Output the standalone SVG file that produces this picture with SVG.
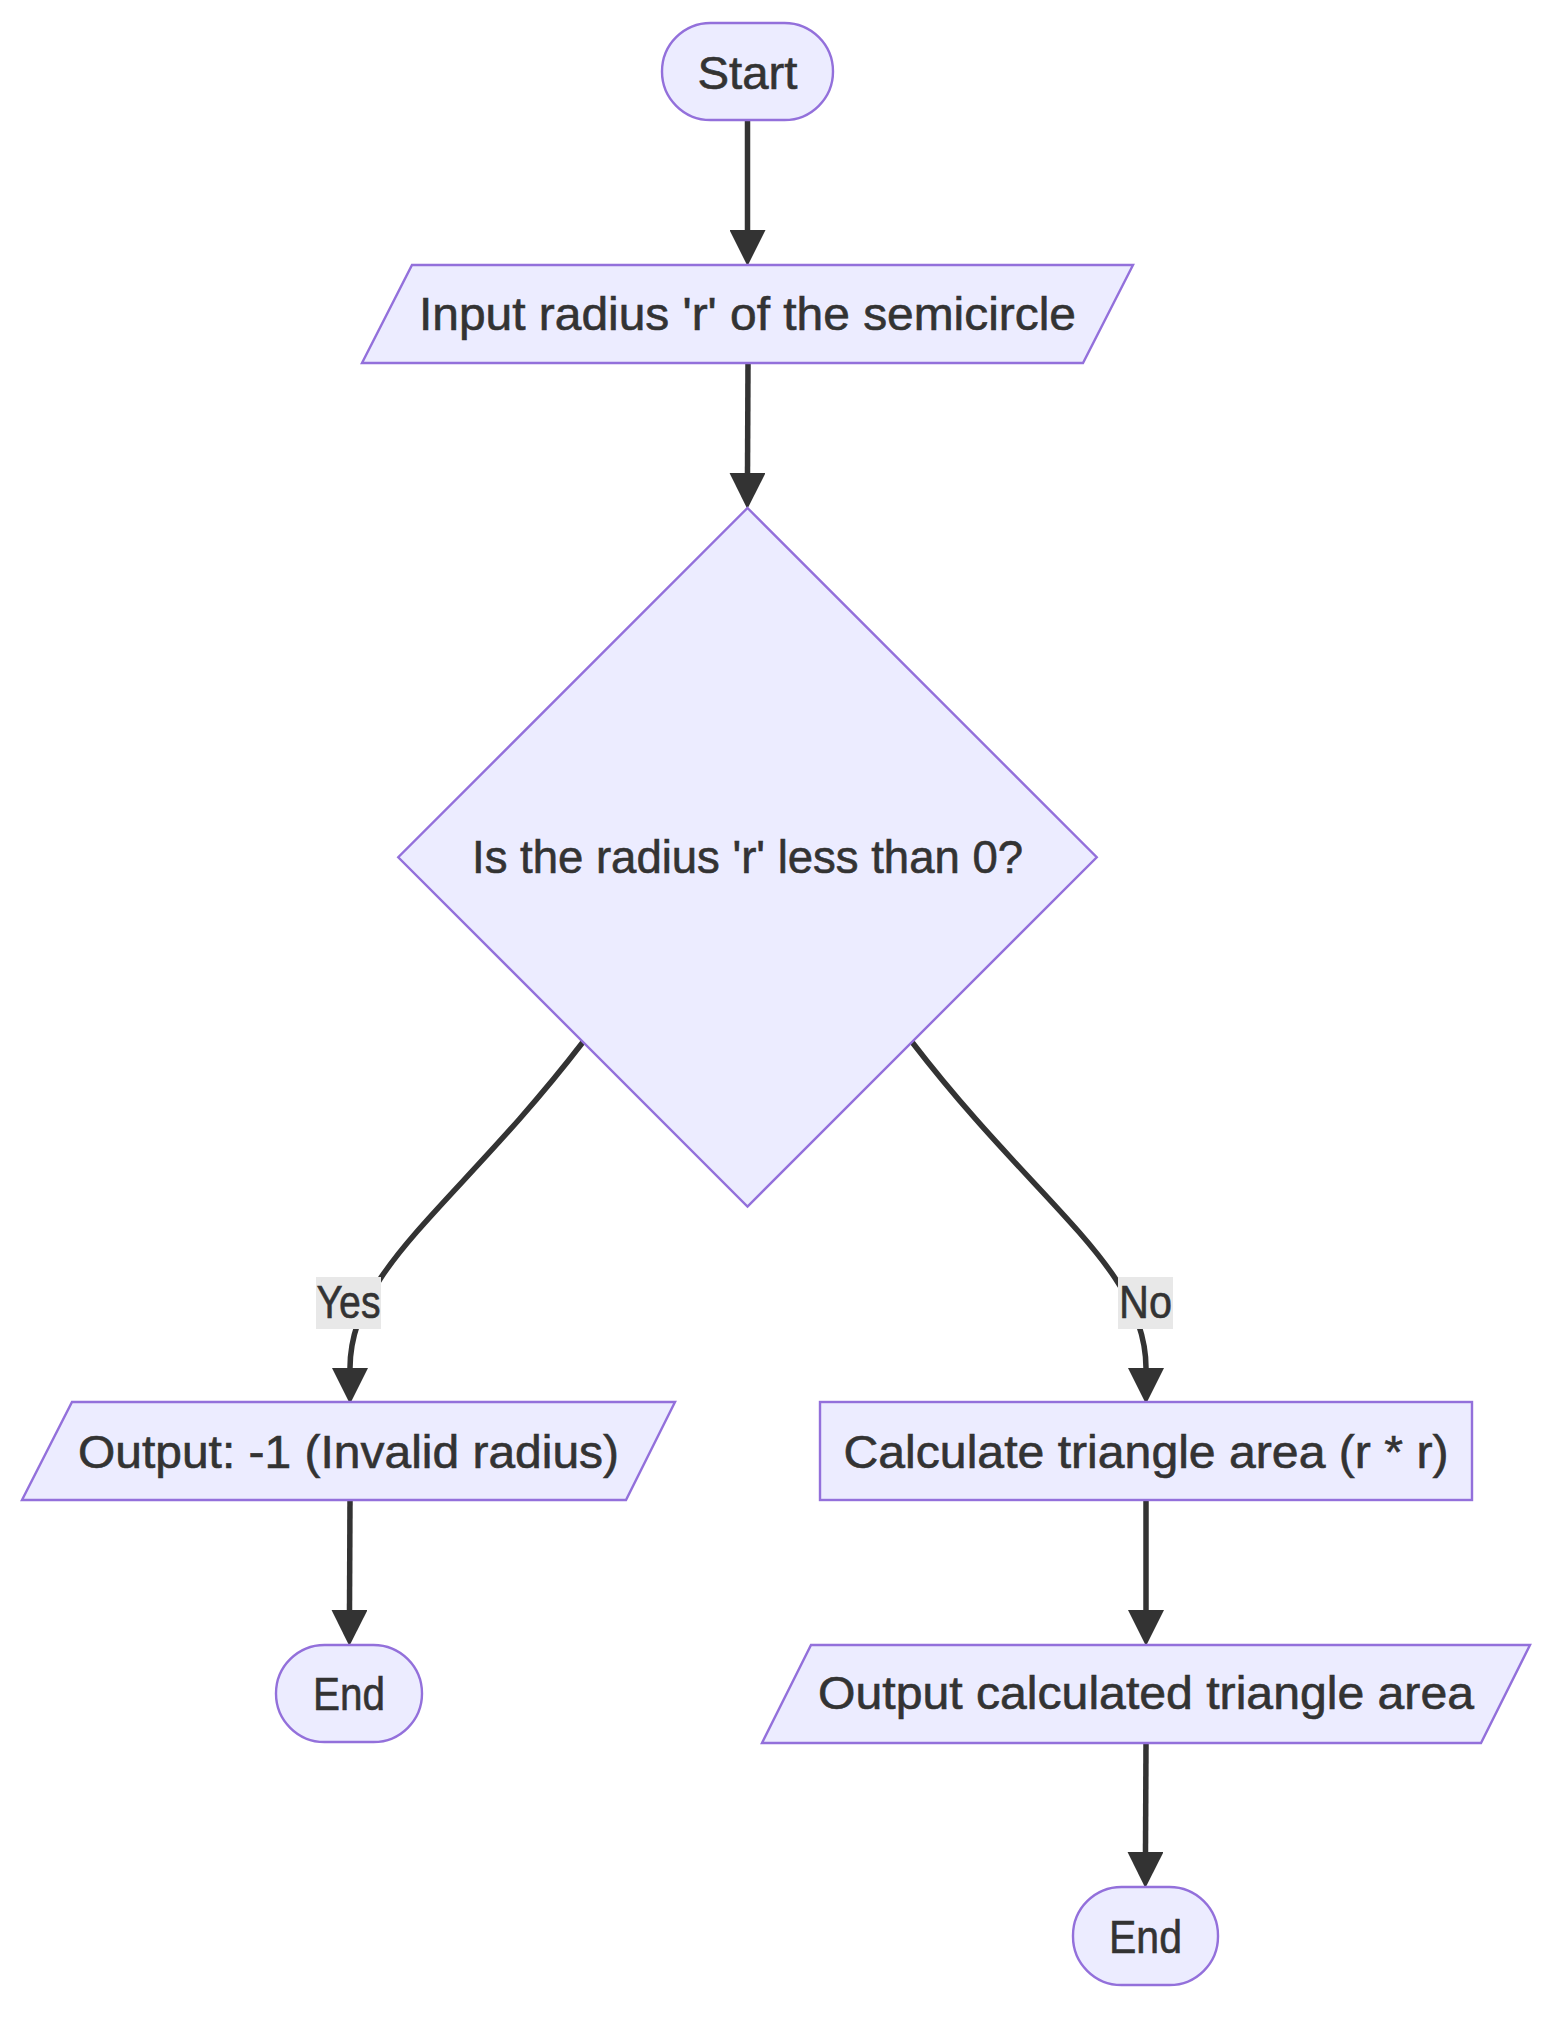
<svg xmlns="http://www.w3.org/2000/svg" width="1568" height="2030" viewBox="0 0 1568 2030">
<style>
.node{fill:#ECECFF;stroke:#9370DB;stroke-width:2.4}
.lbl{font-family:"Liberation Sans",Arial,sans-serif;font-size:46px;fill:#333333;stroke:#333333;stroke-width:0.6;text-anchor:middle}
.edge{fill:none;stroke:#333333;stroke-width:5.5}
.ebg{fill:#e8e8e8}
</style>
<defs>
<marker id="arrow" markerUnits="userSpaceOnUse" markerWidth="36" markerHeight="36" viewBox="0 0 35 35" refX="0" refY="17.5" orient="auto">
<path d="M0,0 L35,17.5 L0,35 z" fill="#333333"/>
</marker>
</defs>
<rect width="1568" height="2030" fill="#ffffff"/>
<g id="connectors">
<path class="edge" d="M747.5,120 L747.5,230" marker-end="url(#arrow)"/>
<path class="edge" d="M748,363 L747.5,473" marker-end="url(#arrow)"/>
<path class="edge" d="M583,1042 C457,1206 350,1268 350,1368" marker-end="url(#arrow)"/>
<path class="edge" d="M912,1042 C1038,1206 1146,1268 1146,1368" marker-end="url(#arrow)"/>
<path class="edge" d="M350,1500 L349.5,1610" marker-end="url(#arrow)"/>
<path class="edge" d="M1146,1500 L1146,1610" marker-end="url(#arrow)"/>
<path class="edge" d="M1146,1743 L1145.5,1852" marker-end="url(#arrow)"/>
<g id="label-yes">
<rect class="ebg" x="316" y="1277" width="65" height="52"/>
<text class="lbl" x="348.5" y="1318" textLength="64" lengthAdjust="spacingAndGlyphs">Yes</text>
</g>
<g id="label-no">
<rect class="ebg" x="1118" y="1277" width="55" height="52"/>
<text class="lbl" x="1145.5" y="1318" textLength="53" lengthAdjust="spacingAndGlyphs">No</text>
</g>
</g>
<g id="start">
<rect class="node" x="662" y="23" width="171" height="97" rx="48.5" ry="48.5"/>
<text class="lbl" x="747.5" y="89" textLength="100" lengthAdjust="spacingAndGlyphs">Start</text>
</g>
<g id="input">
<polygon class="node" points="412,265 1133,265 1083,363 362,363"/>
<text class="lbl" x="747.5" y="330" textLength="657" lengthAdjust="spacingAndGlyphs">Input radius 'r' of the semicircle</text>
</g>
<g id="decision">
<polygon class="node" points="747.5,508 1096.75,857.25 747.5,1206.5 398.25,857.25"/>
<text class="lbl" x="747.5" y="873" textLength="551" lengthAdjust="spacingAndGlyphs">Is the radius 'r' less than 0?</text>
</g>
<g id="output-invalid">
<polygon class="node" points="72,1402 675,1402 626,1500 22,1500"/>
<text class="lbl" x="348.5" y="1468" textLength="541" lengthAdjust="spacingAndGlyphs">Output: -1 (Invalid radius)</text>
</g>
<g id="end-left">
<rect class="node" x="276" y="1645" width="146" height="97" rx="48.5" ry="48.5"/>
<text class="lbl" x="349" y="1710" textLength="72" lengthAdjust="spacingAndGlyphs">End</text>
</g>
<g id="calculate">
<rect class="node" x="820" y="1402" width="652" height="98"/>
<text class="lbl" x="1146" y="1468" textLength="605" lengthAdjust="spacingAndGlyphs">Calculate triangle area (r * r)</text>
</g>
<g id="output-area">
<polygon class="node" points="811,1645 1530,1645 1481,1743 762,1743"/>
<text class="lbl" x="1146" y="1709" textLength="656" lengthAdjust="spacingAndGlyphs">Output calculated triangle area</text>
</g>
<g id="end-right">
<rect class="node" x="1073" y="1887" width="145" height="98" rx="48.5" ry="48.5"/>
<text class="lbl" x="1145.5" y="1953" textLength="73" lengthAdjust="spacingAndGlyphs">End</text>
</g>
</svg>
